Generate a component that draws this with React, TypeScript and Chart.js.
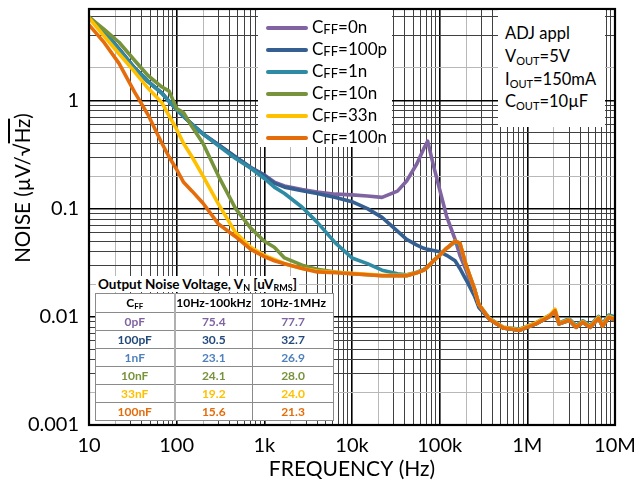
import React, { useEffect, useRef } from "react";
import { Chart, registerables } from "chart.js";

Chart.register(...registerables);

// ---------------- data ----------------
const FREQ_HZ = [
  10, 15, 22, 33, 47, 68, 82, 100, 120, 150,
  200, 300, 470, 700, 1000, 1300, 1700, 2700, 4000, 6500,
  10000, 15000, 22000, 33000, 42000, 55000, 66000, 73000, 85000, 100000,
  120000, 150000, 170000, 200000, 250000, 280000,
  370000, 530000, 810000, 1250000, 1800000, 2070000, 2300000, 3000000, 3600000,
  4300000, 5200000, 6500000, 7200000, 8500000, 10000000,
];

const CFF_0N = [
  5.9, 4.3, 3.0, 2.0, 1.5, 1.17, 0.98, 0.82, 0.71, 0.60,
  0.49, 0.39, 0.30, 0.24, 0.205, 0.176, 0.162, 0.150, 0.142, 0.136,
  0.134, 0.131, 0.127, 0.145, 0.18, 0.26, 0.36, 0.42, 0.25, 0.15,
  0.085, 0.052, 0.037, 0.027, 0.0165, 0.0127,
  0.0095, 0.0079, 0.0075, 0.0086, 0.0101, 0.0114, 0.0086, 0.0093, 0.0080,
  0.0089, 0.0080, 0.0097, 0.0082, 0.0099, 0.0094,
];

const CFF_100P = [
  5.9, 4.3, 3.0, 2.0, 1.5, 1.17, 0.98, 0.82, 0.71, 0.60,
  0.49, 0.39, 0.30, 0.24, 0.203, 0.172, 0.158, 0.146, 0.138, 0.127,
  0.116, 0.100, 0.083, 0.062, 0.052, 0.046, 0.043, 0.042, 0.041, 0.040,
  0.037, 0.033, 0.028, 0.022, 0.0155, 0.0122,
  0.0095, 0.0079, 0.0075, 0.0086, 0.0101, 0.0114, 0.0086, 0.0093, 0.0080,
  0.0089, 0.0080, 0.0097, 0.0082, 0.0099, 0.0094,
];

const CFF_1N = [
  5.85, 4.25, 2.95, 1.98, 1.5, 1.16, 0.98, 0.82, 0.71, 0.60,
  0.49, 0.38, 0.29, 0.236, 0.19, 0.158, 0.138, 0.103, 0.075, 0.048,
  0.035, 0.031, 0.027, 0.025, 0.0245, 0.0258, 0.0275, 0.029, 0.033, 0.037,
  0.043, 0.049, 0.046, 0.029, 0.018, 0.013,
  0.0097, 0.0080, 0.0077, 0.0088, 0.0104, 0.0112, 0.0088, 0.0096, 0.0083,
  0.0092, 0.0083, 0.0101, 0.0086, 0.0104, 0.0100,
];

const CFF_10N = [
  5.9, 4.5, 3.45, 2.35, 1.7, 1.33, 1.22, 0.84, 0.77, 0.57,
  0.40, 0.20, 0.10, 0.066, 0.050, 0.044, 0.035, 0.030, 0.0275, 0.026,
  0.025, 0.0245, 0.024, 0.024, 0.024, 0.0255, 0.027, 0.029, 0.033, 0.037,
  0.043, 0.050, 0.048, 0.030, 0.018, 0.013,
  0.0095, 0.0079, 0.0075, 0.0086, 0.0101, 0.0114, 0.0086, 0.0093, 0.0080,
  0.0089, 0.0080, 0.0097, 0.0082, 0.0099, 0.0094,
];

const CFF_33N = [
  5.8, 3.9, 2.7, 1.85, 1.3, 0.95, 0.72, 0.54, 0.40, 0.30,
  0.20, 0.11, 0.06, 0.044, 0.037, 0.034, 0.031, 0.028, 0.0265, 0.0258,
  0.0252, 0.0247, 0.0242, 0.0242, 0.0243, 0.0256, 0.027, 0.029, 0.033, 0.037,
  0.043, 0.050, 0.048, 0.030, 0.018, 0.013,
  0.0096, 0.0080, 0.0076, 0.0088, 0.0103, 0.0118, 0.0087, 0.0094, 0.0081,
  0.0090, 0.0081, 0.0099, 0.0083, 0.0101, 0.0096,
];

const CFF_100N = [
  5.0, 3.4, 2.2, 1.2, 0.74, 0.40, 0.30, 0.23, 0.175, 0.145,
  0.112, 0.072, 0.055, 0.042, 0.036, 0.033, 0.031, 0.028, 0.026, 0.0255,
  0.025, 0.0245, 0.024, 0.024, 0.024, 0.0255, 0.027, 0.029, 0.033, 0.037,
  0.043, 0.050, 0.048, 0.030, 0.018, 0.013,
  0.0095, 0.0079, 0.0075, 0.0086, 0.0101, 0.0114, 0.0086, 0.0093, 0.0080,
  0.0089, 0.0080, 0.0097, 0.0082, 0.0099, 0.0094,
];

const SERIES_LABELS = ["0n", "100p", "1n", "10n", "33n", "100n"];
const SERIES_VALUES = [CFF_0N, CFF_100P, CFF_1N, CFF_10N, CFF_33N, CFF_100N];
const SERIES_COLORS = ["#8064a2", "#365f91", "#2e8ba3", "#77933c", "#ffc000", "#e46c0a"];
const SERIES_DRAW_ORDER = [5, 4, 3, 2, 1, 0];

const X_MAJOR = [10, 100, 1e3, 1e4, 1e5, 1e6, 1e7];
const X_LABELS = ["10", "100", "1k", "10k", "100k", "1M", "10M"];
const Y_MAJOR = [0.001, 0.01, 0.1, 1];
const Y_LABELS = ["0.001", "0.01", "0.1", "1"];
const Y_MINOR_ABOVE_ONE = [2, 4, 6];
const MINOR_STEPS = [2, 3, 4, 5, 6, 7, 8, 9];
const Y_MAX = 7;

const TABLE_CFF = ["0pF", "100pF", "1nF", "10nF", "33nF", "100nF"];
const TABLE_100K = ["75.4", "30.5", "23.1", "24.1", "19.2", "15.6"];
const TABLE_1M = ["77.7", "32.7", "26.9", "28.0", "24.0", "21.3"];
const TABLE_COLORS = ["#8064a2", "#244a7a", "#4f81bd", "#77933c", "#ffc000", "#e46c0a"];

const ANNOT_LINES: [string, string, string][] = [
  ["ADJ appl", "", ""],
  ["V", "OUT", "=5V"],
  ["I", "OUT", "=150mA"],
  ["C", "OUT", "=10\u00b5F"],
];

// ---------------- helpers ----------------
const clean = (v: number) => Number(v.toPrecision(10));

const X_GRID: number[] = [];
X_MAJOR.forEach((m, i) => {
  X_GRID.push(m);
  if (i < X_MAJOR.length - 1) MINOR_STEPS.forEach((s) => X_GRID.push(clean(m * s)));
});
const Y_GRID: number[] = [];
Y_MAJOR.forEach((m, i) => {
  Y_GRID.push(m);
  if (i < Y_MAJOR.length - 1) MINOR_STEPS.forEach((s) => Y_GRID.push(clean(m * s)));
});
Y_MINOR_ABOVE_ONE.forEach((s) => Y_GRID.push(s));

const mantissa = (v: number) => {
  const e = Math.floor(Math.log10(v) + 1e-9);
  return Math.round(v / Math.pow(10, e));
};
const labelFor = (v: number, majors: number[], labels: string[]) => {
  const i = majors.findIndex((m) => Math.abs(m - v) / m < 1e-6);
  return i >= 0 ? labels[i] : "";
};
const gridColor = (ctx: any) => {
  const v = ctx.tick ? ctx.tick.value : 1;
  const m = mantissa(v);
  if (m === 1) return "#000000";
  if (m === 2) return "#b8b8b8";
  return "#404040";
};
const gridWidth = (ctx: any) => {
  const v = ctx.tick ? ctx.tick.value : 1;
  return mantissa(v) === 1 ? 1.6 : 1;
};

const FONT = "Lato, 'Open Sans', sans-serif";

const framePlugin = {
  id: "frame",
  afterDatasetsDraw(chart: any) {
    const { ctx, chartArea } = chart;
    const { left, top, right, bottom } = chartArea;
    ctx.save();
    ctx.strokeStyle = "#000";
    ctx.lineWidth = 2.2;
    ctx.strokeRect(left, top, right - left, bottom - top);
    ctx.restore();
  },
};

export default function App() {
  const canvasRef = useRef<HTMLCanvasElement>(null);

  useEffect(() => {
    const canvas = canvasRef.current;
    if (!canvas) return;
    const datasets = SERIES_VALUES.map((vals, si) => ({
      label: "CFF=" + SERIES_LABELS[si],
      data: FREQ_HZ.map((f, i) => ({ x: f, y: vals[i] })),
      borderColor: SERIES_COLORS[si],
      backgroundColor: SERIES_COLORS[si],
      borderWidth: 3.6,
      pointRadius: 0,
      tension: 0,
      borderJoinStyle: "round" as const,
      borderCapStyle: "round" as const,
      order: SERIES_DRAW_ORDER[si],
    }));

    const chart = new Chart(canvas, {
      type: "line",
      data: { datasets },
      options: {
        responsive: false,
        maintainAspectRatio: false,
        animation: false,
        layout: { padding: { left: 0, right: 27, top: 9, bottom: 0 } },
        plugins: { legend: { display: false }, tooltip: { enabled: false } },
        scales: {
          x: {
            type: "logarithmic",
            min: 10,
            max: 1e7,
            afterBuildTicks: (s: any) => {
              s.ticks = X_GRID.map((v) => ({ value: v }));
            },
            afterFit: (s: any) => {
              s.height = 57;
              s.paddingLeft = 0;
              s.paddingRight = 0;
            },
            border: { display: false },
            grid: { color: gridColor, lineWidth: gridWidth, drawTicks: false },
            ticks: {
              autoSkip: false,
              maxRotation: 0,
              minRotation: 0,
              padding: 9,
              color: "#000",
              font: { family: FONT, size: 20 },
              callback: (v: any) => labelFor(Number(v), X_MAJOR, X_LABELS),
            },
            title: {
              display: true,
              text: "FREQUENCY (Hz)",
              color: "#000",
              font: { family: FONT, size: 21 },
              padding: { top: 0, bottom: 0 },
            },
          },
          y: {
            type: "logarithmic",
            min: 0.001,
            max: Y_MAX,
            afterBuildTicks: (s: any) => {
              s.ticks = Y_GRID.map((v) => ({ value: v }));
            },
            afterFit: (s: any) => {
              s.width = 89;
              s.paddingTop = 0;
              s.paddingBottom = 0;
            },
            border: { display: false },
            grid: { color: gridColor, lineWidth: gridWidth, drawTicks: false },
            ticks: {
              autoSkip: false,
              padding: 10,
              color: "#000",
              font: { family: FONT, size: 20 },
              callback: (v: any) => labelFor(Number(v), Y_MAJOR, Y_LABELS),
            },
          },
        },
      },
      plugins: [framePlugin],
    } as any);

    return () => chart.destroy();
  }, []);

  const sub = (t: string, size: number, top: number) => (
    <span style={{ fontSize: size, position: "relative", top }}>{t}</span>
  );

  return (
    <div
      style={{
        position: "fixed",
        left: 0,
        top: 0,
        width: 642,
        height: 482,
        background: "#fff",
        fontFamily: FONT,
        color: "#000",
      }}
    >
      <canvas ref={canvasRef} width={642} height={482} style={{ display: "block" }} />

      {/* Y axis title */}
      <div
        style={{
          position: "absolute",
          left: 22 - 110,
          top: 188 - 13,
          width: 220,
          height: 26,
          lineHeight: "26px",
          textAlign: "center",
          fontSize: 20.5,
          transform: "rotate(-90deg)",
          whiteSpace: "nowrap",
        }}
      >
        NOISE ({"\u00b5"}V/{"\u221a"}
        <span style={{ textDecoration: "overline" }}>Hz</span>)
      </div>

      {/* Legend */}
      <div
        style={{
          position: "absolute",
          left: 258,
          top: 10,
          width: 134,
          height: 137,
          background: "#fff",
        }}
      />
      {SERIES_LABELS.map((lab, i) => (
        <div
          key={lab}
          style={{
            position: "absolute",
            left: 266,
            top: 16.7 + i * 22,
            height: 22,
            display: "flex",
            alignItems: "center",
            whiteSpace: "nowrap",
          }}
        >
          <div
            style={{
              width: 42,
              height: 4,
              background: SERIES_COLORS[i],
              borderRadius: 2,
              marginRight: 4,
            }}
          />
          <span style={{ fontSize: 17, lineHeight: "22px" }}>
            C{sub("FF", 13, 1)}={lab}
          </span>
        </div>
      ))}

      {/* Annotation box */}
      <div
        style={{
          position: "absolute",
          left: 498,
          top: 10,
          width: 107,
          height: 117,
          background: "#fff",
        }}
      />
      {ANNOT_LINES.map((ln, i) => (
        <div
          key={i}
          style={{
            position: "absolute",
            left: 505,
            top: 22 + i * 22.8,
            height: 22,
            lineHeight: "22px",
            fontSize: 16.5,
            whiteSpace: "nowrap",
          }}
        >
          {ln[0]}
          {ln[1] ? sub(ln[1], 11, 3) : null}
          {ln[2]}
        </div>
      ))}

      {/* Table title */}
      <div
        style={{
          position: "absolute",
          left: 96,
          top: 276,
          height: 16,
          lineHeight: "16px",
          padding: "0 2px",
          background: "#fff",
          fontWeight: 700,
          fontSize: 13.5,
          whiteSpace: "nowrap",
        }}
      >
        Output Noise Voltage, V{sub("N", 9, 2)} [uV{sub("RMS", 9, 2)}]
      </div>

      {/* Table */}
      <table
        style={{
          position: "absolute",
          left: 95,
          top: 293,
          width: 238,
          borderCollapse: "collapse",
          background: "#fff",
          fontWeight: 700,
          fontSize: 12,
          tableLayout: "fixed",
        }}
      >
        <colgroup>
          <col style={{ width: 79 }} />
          <col style={{ width: 78 }} />
          <col style={{ width: 81 }} />
        </colgroup>
        <tbody>
          <tr style={{ height: 19 }}>
            <td style={cellStyle("#000", true)}>
              C{sub("FF", 8, 2)}
            </td>
            <td style={cellStyle("#000", false)}>10Hz-100kHz</td>
            <td style={cellStyle("#000", false)}>10Hz-1MHz</td>
          </tr>
          {TABLE_CFF.map((c, i) => (
            <tr key={c} style={{ height: 18 }}>
              <td style={cellStyle(TABLE_COLORS[i], true)}>{c}</td>
              <td style={cellStyle(TABLE_COLORS[i], false)}>{TABLE_100K[i]}</td>
              <td style={cellStyle(TABLE_COLORS[i], false)}>{TABLE_1M[i]}</td>
            </tr>
          ))}
        </tbody>
      </table>
    </div>
  );
}

function cellStyle(color: string, first: boolean): React.CSSProperties {
  return {
    border: "1px solid #8a8a8a",
    borderRight: first ? "2px solid #b0b0b0" : "1px solid #8a8a8a",
    padding: 0,
    textAlign: "center",
    verticalAlign: "middle",
    color,
    lineHeight: "14px",
  };
}
